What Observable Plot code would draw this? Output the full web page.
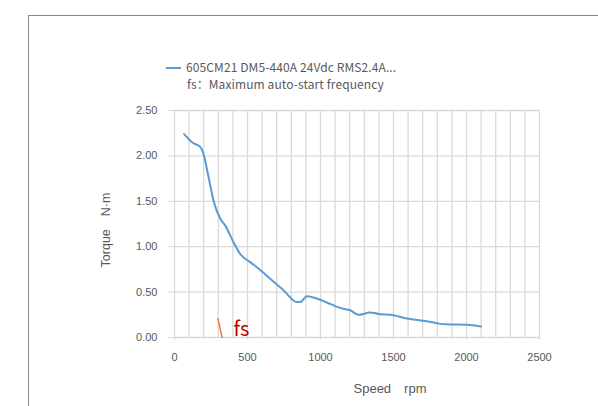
<!DOCTYPE html>
<html><head><meta charset="utf-8">
<script src="https://cdn.jsdelivr.net/npm/d3@7"></script>
<script src="https://cdn.jsdelivr.net/npm/@observablehq/plot@0.6"></script>
<style>
body{margin:0;background:#fff;}
#wrap{position:relative;width:598px;height:406px;overflow:hidden;font-family:"Noto Sans CJK SC","Noto Sans",sans-serif;}
#frame{position:absolute;left:28px;top:15px;width:600px;height:400px;border-top:1px solid #8a8a8a;border-left:1px solid #8a8a8a;}
#chart{position:absolute;left:0;top:0;}
.lg{position:absolute;color:#595959;font-size:12px;white-space:nowrap;letter-spacing:0.1px;}
.ax{position:absolute;color:#595959;font-family:"Liberation Sans",Arial,sans-serif;white-space:nowrap;}
</style></head>
<body>
<div id="wrap">
<div id="frame"></div>
<div id="chart"></div>
<div class="lg" id="lg1" style="left:166px;top:58px;"><span style="display:inline-block;width:15px;height:2px;background:#5B9BD5;vertical-align:middle;margin-right:5px;position:relative;top:-1px"></span><span id="lgtxt"></span></div>
<div class="lg" id="lg2" style="left:187px;top:75px;"></div>
<div class="ax" id="ylab" style="left:106px;top:230px;font-size:12.5px;transform:translate(-50%,-50%) rotate(-90deg);"></div>
<div class="ax" id="xlab" style="left:390px;top:389px;font-size:13px;transform:translate(-50%,-50%);"></div>
</div>
<script>
const seriesName = "605CM21 DM5-440A 24Vdc RMS2.4A...";
const noteText = "fs：Maximum auto-start frequency";
const xLabelText = "Speed\u3000rpm";
const yLabelText = "Torque\u3000N·m";
const fsLabel = "fs";

const speed  = [66, 107, 130, 176, 199, 233, 267, 313, 347, 404, 450, 518, 575, 654, 747, 838, 861, 907, 1021, 1066, 1147, 1203, 1260, 1340, 1397, 1500, 1592, 1729, 1820, 1866, 2003, 2099];
const torque = [2.24, 2.17, 2.14, 2.10, 2.02, 1.77, 1.51, 1.31, 1.235, 1.05, 0.92, 0.83, 0.76, 0.65, 0.52, 0.39, 0.39, 0.455, 0.40, 0.37, 0.32, 0.30, 0.25, 0.275, 0.26, 0.245, 0.21, 0.18, 0.15, 0.145, 0.14, 0.12];

const fsSpeed = [297, 326];
const fsTorque = [0.21, 0];
const fsLabelPos = {speed: 404, torque: 0.09};

const xTicks = [0, 500, 1000, 1500, 2000, 2500];
const xGrid = d3.range(0, 2501, 100);
const yTicks = [0, 0.5, 1.0, 1.5, 2.0, 2.5];

const data = speed.map((s, i) => ({speed: s, torque: torque[i]}));
const fsData = fsSpeed.map((s, i) => ({speed: s, torque: fsTorque[i]}));

document.getElementById("lgtxt").textContent = seriesName;
document.getElementById("lg2").textContent = noteText;
document.getElementById("xlab").textContent = xLabelText;
document.getElementById("ylab").textContent = yLabelText;

const chart = Plot.plot({
  width: 598, height: 406,
  marginLeft: 174, marginRight: 59, marginTop: 110, marginBottom: 69,
  x: {domain: [0, 2500]},
  y: {domain: [0, 2.5]},
  style: {fontFamily: '"Liberation Sans", Arial, sans-serif', fontSize: "11px", background: "transparent"},
  marks: [
    Plot.ruleX(xGrid, {stroke: "#d9d9d9", strokeWidth: 1.3, y1: 0, y2: 2.5, strokeOpacity: 1}),
    Plot.ruleY(yTicks, {stroke: "#d9d9d9", strokeWidth: 1.3, strokeOpacity: 1}),
    Plot.axisY({ticks: yTicks, tickSize: 6, tickPadding: 11, tickFormat: d => d.toFixed(2), stroke: "#d9d9d9", fill: "#595959", label: null, strokeOpacity: 1}),
    Plot.axisX({ticks: xTicks, tickSize: 3, tickPadding: 13, tickFormat: d => String(d), stroke: "#d9d9d9", fill: "#595959", label: null, strokeOpacity: 1}),
    Plot.line(fsData, {x: "speed", y: "torque", stroke: "#ED7D31", strokeWidth: 1.5}),
    Plot.text([fsLabelPos], {x: "speed", y: "torque", text: () => fsLabel, fill: "#C00000", fontSize: 20, textAnchor: "start", fontFamily: '"Noto Sans CJK SC", sans-serif'}),
    Plot.line(data, {x: "speed", y: "torque", stroke: "#5B9BD5", strokeWidth: 2, curve: "monotone-x"})
  ]
});
document.getElementById("chart").appendChild(chart);
</script>
</body></html>
